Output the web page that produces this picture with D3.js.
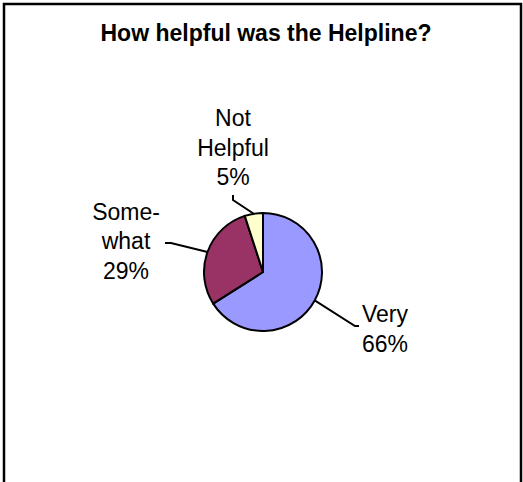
<!DOCTYPE html>
<html>
<head>
<meta charset="utf-8">
<script src="https://cdn.jsdelivr.net/npm/d3@7"></script>
<style>
  html, body { margin: 0; padding: 0; background: #fff; }
  svg { display: block; }
</style>
</head>
<body>
<div id="chart"></div>
<script>
// data
const title = 'How helpful was the Helpline?';
const categories = ['Very', 'Some-what', 'Not Helpful'];
const values = [66, 29, 5];
const labelLines = [['Very', '66%'], ['Some-', 'what', '29%'], ['Not', 'Helpful', '5%']];
const colors = ['#9999FF', '#993366', '#FFFFCC'];

// layout
const width = 523;
const height = 482;
const center = { x: 263, y: 272 };
const radius = 59;
const fontFamily = '"Liberation Sans", Arial, sans-serif';
const lineHeight = 29.5;
// label anchor (text centre x, first baseline y) and leader elbow, relative to pie centre
const labelLayout = [
  { tx: 122, ty: 50, elbow: [92, 54], end: [96, 54] },
  { tx: -137, ty: -52.5, elbow: [-92, -29], end: [-98, -29] },
  { tx: -30, ty: -146, elbow: [-30, -72], end: [-30, -77] },
];

const svg = d3.select('#chart')
  .append('svg')
  .attr('width', width)
  .attr('height', height);

// frame
svg.append('rect')
  .attr('x', 4)
  .attr('y', 4)
  .attr('width', 517)
  .attr('height', height + 20)
  .attr('fill', '#fff')
  .attr('stroke', '#000')
  .attr('stroke-width', 2.5);

svg.append('text')
  .attr('x', 266)
  .attr('y', 41)
  .attr('text-anchor', 'middle')
  .attr('font-family', fontFamily)
  .attr('font-weight', 'bold')
  .attr('font-size', 23)
  .attr('fill', '#000')
  .text(title);

const pie = d3.pie()
  .sort(null)
  .value((d) => d);

const arcs = pie(values);

const arc = d3.arc()
  .innerRadius(0)
  .outerRadius(radius);

const g = svg.append('g')
  .attr('transform', `translate(${center.x},${center.y})`);

g.selectAll('path.slice')
  .data(arcs)
  .join('path')
  .attr('class', 'slice')
  .attr('d', arc)
  .attr('fill', (d, i) => colors[i])
  .attr('stroke', '#000')
  .attr('stroke-width', 2)
  .attr('stroke-linejoin', 'round');

// leader lines and labels
arcs.forEach((d, i) => {
  const mid = (d.startAngle + d.endAngle) / 2;
  const p0 = [Math.sin(mid) * radius, -Math.cos(mid) * radius];
  const lay = labelLayout[i];
  g.append('path')
    .attr('d', d3.line()([p0, lay.elbow, lay.end]))
    .attr('fill', 'none')
    .attr('stroke', '#000')
    .attr('stroke-width', 2);

  const t = g.append('text')
    .attr('text-anchor', 'middle')
    .attr('font-family', fontFamily)
    .attr('font-size', 23)
    .attr('fill', '#000');
  labelLines[i].forEach((line, j) => {
    t.append('tspan')
      .attr('x', lay.tx)
      .attr('y', lay.ty + j * lineHeight)
      .text(line);
  });
});
</script>
</body>
</html>
